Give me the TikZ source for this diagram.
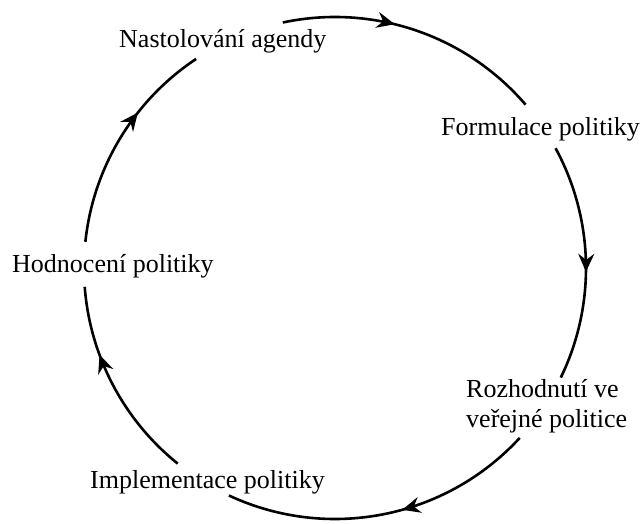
\documentclass[tikz,border=0pt]{standalone}
\usepackage{fontspec}
\setmainfont{Liberation Serif}
\usetikzlibrary{arrows.meta,decorations.markings}
\tikzset{
  lbl/.style={inner sep=0pt, anchor=base west, font=\fontsize{26}{30}\selectfont},
  cyc/.style={line width=2.6pt, postaction={decorate},
    decoration={markings, mark=at position #1 with {\arrow{Stealth[length=18pt,width=16pt,inset=6pt]}}}}
}
\begin{document}
\begin{tikzpicture}[x=1pt,y=1pt]
\useasboundingbox (0,0) rectangle (642,523);
\node[lbl] (agenda) at (119,475) {Nastolování agendy};
\node[lbl] (formulace) at (441,387) {Formulace politiky};
\node[lbl, align=left] (rozhodnuti) at (466,96) {Rozhodnutí ve\\veřejné politice};
\node[lbl] (hodnoceni) at (12,251) {Hodnocení politiky};
\node[lbl] (implementace) at (90,35) {Implementace politiky};
\begin{scope}[shift={(335,255)}]
\coordinate (c) at (0,0);
\coordinate (a0) at (102:251);
\coordinate (b0) at (28.5:251);
\coordinate (c0) at (-42.6:251);
\coordinate (d0) at (-128.8:251);
\coordinate (e0) at (174:251);
\draw[cyc=0.42] (a0) arc[start angle=102, end angle=40.6, radius=251];
\draw[cyc=0.54] (b0) arc[start angle=28.5, end angle=-25.9, radius=251];
\draw[cyc=0.44] (c0) arc[start angle=-42.6, end angle=-115, radius=251];
\draw[cyc=0.66] (d0) arc[start angle=-128.8, end angle=-175.7, radius=251];
\draw[cyc=0.64] (e0) arc[start angle=174, end angle=123.6, radius=251];
\end{scope}
\end{tikzpicture}
\end{document}
